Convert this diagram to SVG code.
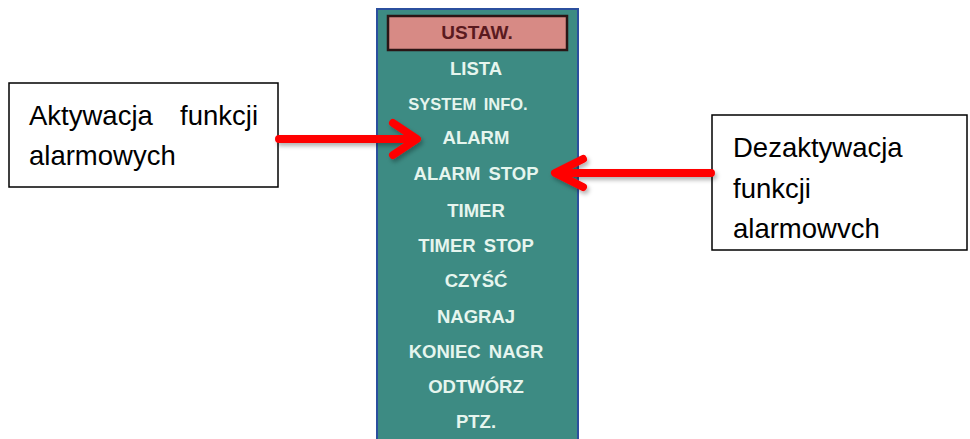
<svg xmlns="http://www.w3.org/2000/svg" width="970" height="439" viewBox="0 0 970 439">
<defs>
<filter id="sh" x="-10%" y="-30%" width="130%" height="170%">
<feDropShadow dx="2" dy="3" stdDeviation="2" flood-color="#000" flood-opacity="0.3"/>
</filter>
<style>
.box{fill:#fff;stroke:#000;stroke-width:1.5}
.lbl{font-family:"Liberation Sans",Arial,sans-serif;font-size:27.5px;fill:#000}
.mi{font-family:"Liberation Sans",Arial,sans-serif;font-weight:bold;font-size:18.5px;fill:#e6f5ee;text-anchor:middle;word-spacing:3px}
.arrow{fill:none;stroke:#ff0000;stroke-width:8;stroke-linecap:round;stroke-linejoin:round}
</style>
</defs>
<rect width="970" height="439" fill="#fff"/>
<g id="menu">
<rect x="377" y="9" width="201" height="432" fill="#3d8b83" stroke="#2b4f9e" stroke-width="2"/>
<rect x="388" y="16" width="179" height="34" fill="#d78a85" stroke="#2a1515" stroke-width="2.5"/>
<text x="477" y="39" style="font-family:'Liberation Sans',Arial,sans-serif;font-weight:bold;font-size:19px;fill:#5a1a1f;text-anchor:middle">USTAW.</text>
<text class="mi" x="476" y="75">LISTA</text>
<text class="mi" x="468" y="110" style="font-size:16.5px">SYSTEM INFO.</text>
<text class="mi" x="476" y="144">ALARM</text>
<text class="mi" x="476" y="180">ALARM STOP</text>
<text class="mi" x="476" y="217">TIMER</text>
<text class="mi" x="476" y="252">TIMER STOP</text>
<text class="mi" x="476" y="287">CZYŚĆ</text>
<text class="mi" x="476" y="323">NAGRAJ</text>
<text class="mi" x="476" y="358">KONIEC NAGR</text>
<text class="mi" x="476" y="393">ODTWÓRZ</text>
<text class="mi" x="476" y="428">PTZ.</text>
</g>
<g id="activate">
<rect class="box" x="9" y="83" width="269" height="104"/>
<text class="lbl" x="29" y="125">Aktywacja</text>
<text class="lbl" x="258" y="125" text-anchor="end">funkcji</text>
<text class="lbl" x="29" y="165">alarmowych</text>
</g>
<g id="deactivate">
<rect class="box" x="712" y="115" width="255" height="135"/>
<text class="lbl" x="733" y="157">Dezaktywacja</text>
<text class="lbl" x="733" y="198">funkcji</text>
<text class="lbl" x="733" y="238">alarmowvch</text>
</g>
<g id="connectors" filter="url(#sh)">
<path class="arrow" d="M279 139 H414 M393 123 L417 139 L393 155"/>
<path class="arrow" d="M711 173 H558 M583 159 L555 173 L583 187"/>
</g>
</svg>
